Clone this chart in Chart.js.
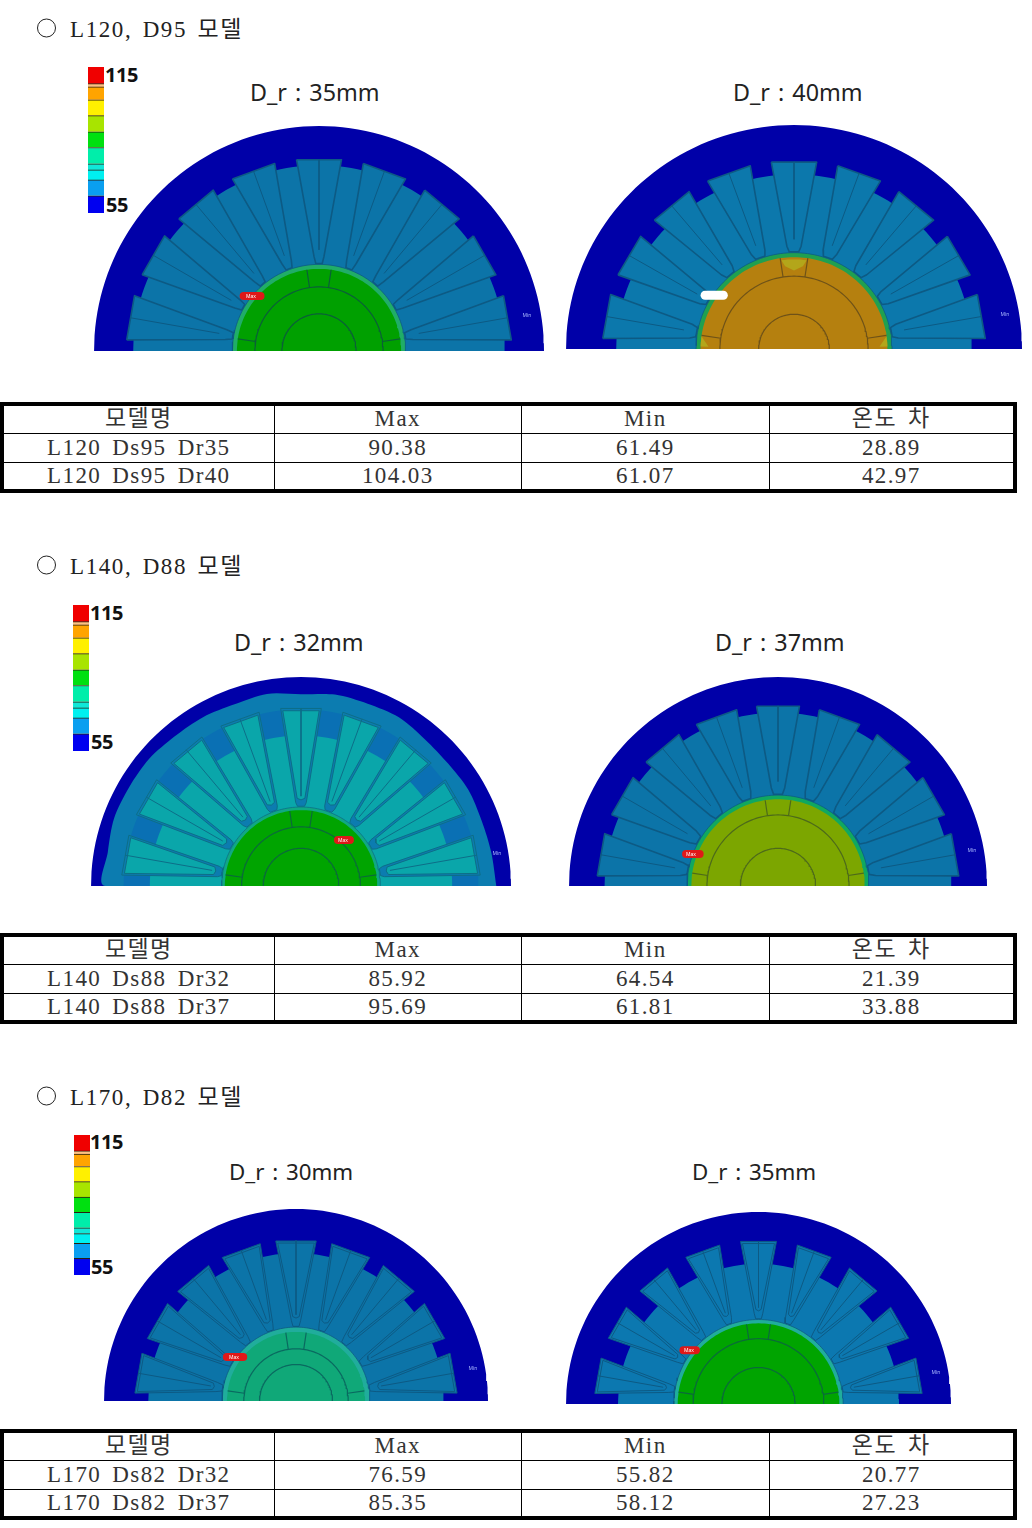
<!DOCTYPE html>
<html lang="ko"><head><meta charset="utf-8">
<script src="https://cdn.jsdelivr.net/npm/chart.js@4"></script>
<style>
html,body{margin:0;padding:0;background:#fff}
#page{position:relative;width:1032px;height:1528px;overflow:hidden;background:#fff;color:#111}
.abs{position:absolute;white-space:nowrap;line-height:1}
.head{font:23px "Liberation Serif","Noto Sans CJK KR",serif;letter-spacing:1.6px;word-spacing:3px;left:70px;transform:translateY(-50%);color:#222}
.ring{left:37px;width:17px;height:17px;border:1.6px solid #222;border-radius:50%;transform:translateY(-50%)}
.title{font:24px "Noto Sans",sans-serif;transform:translateY(-50%);color:#222;word-spacing:2px}
.lg{font:bold 20px "Open Sans",sans-serif;transform:translateY(-50%);color:#111;letter-spacing:-.4px}
.tiny{font:5px "Noto Sans",sans-serif;transform:translate(-50%,-50%)}
table{position:absolute;left:0;width:1017px;box-sizing:border-box;border-collapse:collapse;table-layout:fixed;border:4px solid #000;font:23px "Liberation Serif","Noto Sans CJK KR",serif;color:#333}
td{border:1px solid #000;padding:0;text-align:center;height:29px;line-height:26px;letter-spacing:1.4px;word-spacing:4px;box-sizing:border-box}
tr:first-child td{color:#222}
canvas{display:block}
.box{position:absolute}
</style></head><body><div id="page"></div>
<script>
// ---- text data ----
const headings = ["L120, D95 모델", "L140, D88 모델", "L170, D82 모델"];
const tableHeader = ["모델명", "Max", "Min", "온도 차"];
const modelNames = ["L120 Ds95 Dr35","L120 Ds95 Dr40","L140 Ds88 Dr32","L140 Ds88 Dr37","L170 Ds82 Dr32","L170 Ds82 Dr37"];
const maxTemps = ["90.38","104.03","85.92","95.69","76.59","85.35"];
const minTemps = ["61.49","61.07","64.54","61.81","55.82","58.12"];
const tempDiffs = ["28.89","42.97","21.39","33.88","20.77","27.23"];
const rotorTitles = ["D_r : 35mm","D_r : 40mm","D_r : 32mm","D_r : 37mm","D_r : 30mm","D_r : 35mm"];
// ---- colour legend (values in °C) ----
const legendStops = [55,62.1,68.6,72.7,75.2,81.9,88.4,95,101.5,106.8,108.2,115];
const legendColors = ["#0000f0","#0a9ff0","#00f0f0","#10e8d8","#00eeaa","#00e010","#a8e400","#fff000","#ffa400","#ffc080","#f00000"];
const legendTicks = ["115","55"];
// ---- motor cross-sections, in units of the stator outer radius ----
const slotAngles = [10,30,50,70,90,110,130,150,170];
const rotorBlockAngles = [8.5,81.5,98.5,171.5];
const slotOuterR  = [.856,.84,.855,.866,.84,.852];
const slotInnerR  = [.42,.46,.40,.47,.42,.473];
const slotOuterHalf = [6.7,6.8,6.5,6.8,7.2,6.3];
const slotInnerHalf = [3,3.9,3.6,3.9,3.3,2.7];
const slotDouble  = [false,false,true,false,true,true];
const toothR      = [.826,.78,.72,.83,.77,.73];
const rotorR      = [.385,.43,.378,.435,.385,.44];
const rimWidth    = [.02,.02,.015,.02,.025,.02];
const rotorArc1   = [.285,.325,.283,.34,.272,.34];
const rotorArc2   = [.165,.155,.18,.18,.19,.19];
const yokeColor   = ["#0000a8","#0000a8","#0000a8","#0000a8","#0000a8","#0000a8"];
const statorColor = ["#0c74a8","#0c78ac","#0c7cb0","#0c74a8","#0c74a8","#0c78b0"];
const toothColor  = ["#0c74a8","#0c78ac","#0aa6aa","#0c74a8","#0c74a8","#0c78b0"];
const slotColor   = ["#0c74a8","#0c78ac","#0aa6aa","#0c74a8","#0c74a8","#0c78b0"];
const lineColor   = ["#0d5a84","#0d5a84","#0d6e88","#0d5a84","#0d5a84","#0d5a84"];
const rotorColor  = ["#00a000","#b5800f","#00a400","#7ca600","#10a878","#00a400"];
const rimColor    = ["#20ad68","#20a050","#10a884","#10a860","#20ad9c","#20ad9c"];
const rotorLine   = ["#0a5f38","#6f5218","#0a6a3a","#4d6a1a","#0a6a60","#0a6a3a"];
// contour of the cooler outer band on the L140 Dr32 section
const contourAngles = [0,10,20,30,40,50,60,70,80,90,100,110,120,130,140,150,160,170,180];
const contourRadii = [.93,.92,.915,.92,.913,.917,.932,.928,.93,.917,.933,.925,.933,.935,.945,.945,.947,.934,.933];
const toothTipColor = "#0a70b4";
// Max marker end points on the section
const maxMarkX0 = [-.335,-.39,.176,-.44,-.36,-.39];
const maxMarkX1 = [-.26,-.31,.233,-.375,-.275,-.325];
const maxMarkY  = [.244,.24,.22,.153,.229,.28];
const maxMarkColor = ["#e01818","#ffffff","#e01818","#e01818","#e01818","#e01818"];

// ---- page layout (CSS pixels) ----
const boxLeft=[93.5,565.5,91,569,104,566], boxWidth=[450,456,420,418,384,385], boxTop=[126,125,677,677,1209,1212], boxHeight=[225,224,209,209,192,192];
const titleX=[250,733,234,715,229,692], titleY=[91.5,91.5,641.5,641.5,1170.5,1170.5], titleSize=[23.3,23.3,23.3,23.3,22.3,22.3];
const maxTextX=[251,0,343,691,234,689], maxTextY=[296,0,840,854,1357,1350];
const minTextX=[527,1005,497,972,473,936], minTextY=[315,314,853,850,1368,1372];
const headY=[27,564,1095], ringY=[28,565,1096], tableTop=[402,933,1429];
const barLeft=[88,73,74], barTop=[67,605,1135], barHeight=[146,146,140], lgX=[105,90,90], lgY115=[74,612,1141], lgY55=[204,741,1266];

const page=document.getElementById('page');
function el(cls,txt,l,t){const d=document.createElement('div');d.className='abs '+cls;d.textContent=txt;if(l!=null)d.style.left=l+'px';d.style.top=t+'px';page.appendChild(d);return d;}
const rad=d=>d*Math.PI/180;
const pol=(r,d)=>({x:r*Math.cos(rad(d)),y:r*Math.sin(rad(d))});
function arc(r,a,b){const p=[];for(let d=a;d<=b+1e-6;d+=2)p.push(pol(r,d));return p;}
function shape(pts,fillC,line,w,tension){return {type:'scatter',data:pts.concat([pts[0]]),showLine:true,pointRadius:0,fill:fillC?'shape':false,backgroundColor:fillC||'transparent',borderColor:line||fillC,borderWidth:w==null?0:w,tension:tension||0,borderJoinStyle:'round'};}
function stroke(pts,line,w,cap){return {type:'scatter',data:pts,showLine:true,pointRadius:0,fill:false,borderColor:line,borderWidth:w,borderCapStyle:cap||'butt',tension:0};}
function disc(r,c){return shape(arc(r,0,180),c,c,0);}

function section(i){
  const ds=[];
  ds.push(disc(1,yokeColor[i]));
  if(i===2){
    ds.push(shape(contourAngles.map((a,k)=>pol(contourRadii[k],a)),statorColor[i],statorColor[i],0,.3));
    ds.push(disc(.845,toothTipColor));
    ds.push(disc(toothR[i],toothColor[i]));
  } else {
    ds.push(disc(toothR[i],statorColor[i]));
  }
  const neck=rotorR[i]+.004;
  slotAngles.forEach(a=>{
    const o=slotOuterHalf[i],n=slotInnerHalf[i],rS=slotOuterR[i],rI=slotInnerR[i];
    const outer=[pol(rS,a+o),pol(rI,a+n),pol(neck,a+n*.7),pol(neck,a-n*.7),pol(rI,a-n),pol(rS,a-o)];
    ds.push(shape(outer,slotDouble[i]?statorColor[i]:slotColor[i],lineColor[i],slotDouble[i]?1:1.6));
    if(slotDouble[i]){
      ds.push(shape([pol(rS-.012,a+o-.6),pol(rI+.02,a+n-1.1),pol(rI+.012,a),pol(rI+.02,a-n+1.1),pol(rS-.012,a-o+.6)],slotColor[i],lineColor[i],1));
    }
    ds.push(stroke([pol(rS-.004,a),pol(rI+.03,a)],lineColor[i],1));
  });
  ds.push(disc(rotorR[i],rimColor[i]));
  ds.push(disc(rotorR[i]-rimWidth[i],rotorColor[i]));
  if(i===1){ // warmer patches in the magnet pockets
    const y="#b3a61a";
    ds.push(shape([...arc(.40,82,98),pol(.372,96),pol(.35,90),pol(.372,84)],y,y,0));
    ds.push(shape([pol(.41,1.5),pol(.41,8),pol(.375,1.5)],y,y,0));
    ds.push(shape([pol(.41,178.5),pol(.41,172),pol(.375,178.5)],y,y,0));
  }
  ds.push(stroke(arc(rotorR[i],0,180),lineColor[i],.8));
  ds.push(stroke(arc(rotorArc1[i],0,180),rotorLine[i],1.2));
  ds.push(stroke(arc(rotorArc2[i],0,180),rotorLine[i],1.2));
  rotorBlockAngles.forEach(a=>ds.push(stroke([pol(rotorArc1[i],a),pol(rotorR[i]-rimWidth[i],a)],rotorLine[i],1.2)));
  ds.push(stroke([{x:maxMarkX0[i],y:maxMarkY[i]},{x:maxMarkX1[i],y:maxMarkY[i]}],maxMarkColor[i],i===1?9:8,'round'));
  const n=ds.length;ds.forEach((d,k)=>{d.order=n-k;});
  return ds;
}

function drawSection(i){
  const b=document.createElement('div');b.className='box';
  b.style.cssText=`left:${boxLeft[i]}px;top:${boxTop[i]}px;width:${boxWidth[i]}px;height:${boxHeight[i]}px`;
  const c=document.createElement('canvas');b.appendChild(c);page.appendChild(b);
  new Chart(c,{type:'scatter',data:{datasets:section(i)},options:{
    responsive:true,maintainAspectRatio:false,animation:false,events:[],
    layout:{padding:0},
    plugins:{legend:{display:false},tooltip:{enabled:false},title:{display:false}},
    scales:{x:{type:'linear',min:-1,max:1,display:false},y:{type:'linear',min:0,max:1,display:false}}
  }});
  const t=el('title',rotorTitles[i],titleX[i],titleY[i]);t.style.fontSize=titleSize[i]+'px';
  if(i!==1){const m=el('tiny','Max',maxTextX[i],maxTextY[i]);m.style.color='#fff';}
  const mn=el('tiny','Min',minTextX[i],minTextY[i]);mn.style.color='#a9b8ff';
}

function drawLegend(g){
  const b=document.createElement('div');b.className='box';
  b.style.cssText=`left:${barLeft[g]}px;top:${barTop[g]}px;width:16px;height:${barHeight[g]}px`;
  const c=document.createElement('canvas');b.appendChild(c);page.appendChild(b);
  new Chart(c,{type:'bar',data:{labels:['T'],datasets:legendColors.map((col,k)=>({
    data:[[legendStops[k],legendStops[k+1]]],backgroundColor:col,grouped:false,
    borderColor:'#2a2010',borderWidth:k<legendColors.length-1?{top:1,bottom:0,left:0,right:0}:0,borderSkipped:false,
    barPercentage:1,categoryPercentage:1}))},
    options:{responsive:true,maintainAspectRatio:false,animation:false,events:[],layout:{padding:0},
    plugins:{legend:{display:false},tooltip:{enabled:false}},
    scales:{x:{display:false},y:{min:legendStops[0],max:legendStops[legendStops.length-1],display:false}}}});
  el('lg',legendTicks[0],lgX[g],lgY115[g]);
  el('lg',legendTicks[1],lgX[g]+1,lgY55[g]);
}

function drawTable(g){
  const t=document.createElement('table');t.style.top=tableTop[g]+'px';
  const cg=document.createElement('colgroup');[271,246.5,246.5,245].forEach(w=>{const c=document.createElement('col');c.style.width=w+'px';cg.appendChild(c);});t.appendChild(cg);
  const rows=[tableHeader];
  [0,1].forEach(k=>{const i=g*2+k;rows.push([modelNames[i],maxTemps[i],minTemps[i],tempDiffs[i]]);});
  rows.forEach(r=>{const tr=document.createElement('tr');r.forEach(v=>{const td=document.createElement('td');td.textContent=v;tr.appendChild(td);});t.appendChild(tr);});
  page.appendChild(t);
}

headings.forEach((h,g)=>{
  el('ring','',null,ringY[g]);
  el('head',h,70,headY[g]);
  drawLegend(g);drawTable(g);
});
[0,1,2,3,4,5].forEach(drawSection);
</script></body></html>
